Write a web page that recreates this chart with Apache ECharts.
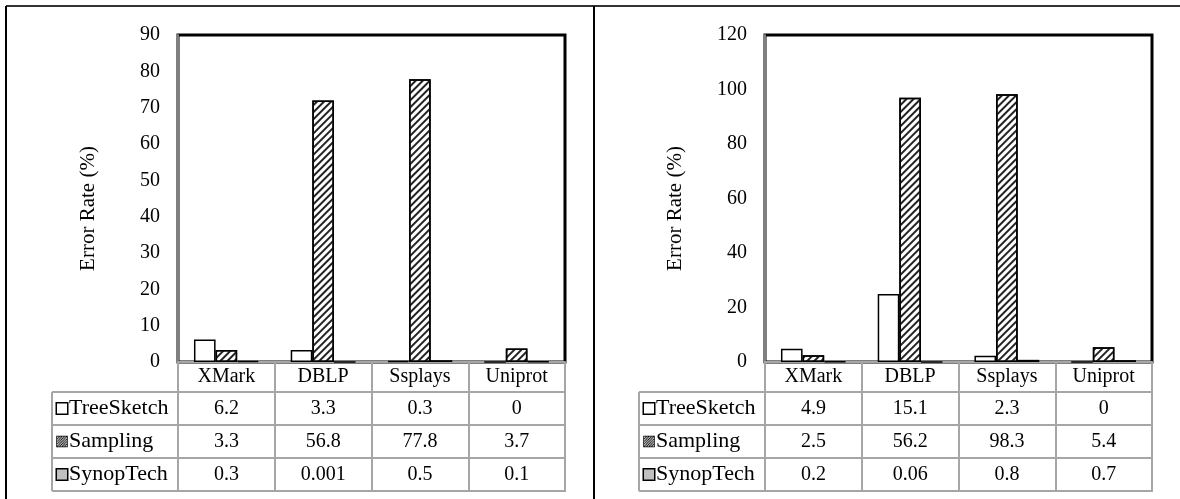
<!DOCTYPE html>
<html><head><meta charset="utf-8">
<script src="https://cdn.jsdelivr.net/npm/echarts@6/dist/echarts.min.js"></script>
<style>html,body{margin:0;padding:0;background:#fff}#c{width:1180px;height:499px}</style>
</head><body><div id="c"></div>
<script>
// ---- data ----
const categories = ['XMark', 'DBLP', 'Ssplays', 'Uniprot'];
const seriesNames = ['TreeSketch', 'Sampling', 'SynopTech'];
// bar heights
const leftTreeSketch = [6.2, 3.3, 0.3, 0];
const leftSampling = [3.3, 72, 77.8, 3.7];
const leftSynopTech = [0.3, 0.001, 0.5, 0.1];
const rightTreeSketch = [4.9, 25, 2.3, 0];
const rightSampling = [2.5, 97, 98.3, 5.4];
const rightSynopTech = [0.2, 0.06, 0.8, 0.7];
// numbers printed in the data tables
const leftTableTreeSketch = ['6.2', '3.3', '0.3', '0'];
const leftTableSampling = ['3.3', '56.8', '77.8', '3.7'];
const leftTableSynopTech = ['0.3', '0.001', '0.5', '0.1'];
const rightTableTreeSketch = ['4.9', '15.1', '2.3', '0'];
const rightTableSampling = ['2.5', '56.2', '98.3', '5.4'];
const rightTableSynopTech = ['0.2', '0.06', '0.8', '0.7'];
const leftYMax = 90, leftYStep = 10;
const rightYMax = 120, rightYStep = 20;
const yTitle = 'Error Rate (%)';

// ---- styles ----
const FONT = "'Liberation Serif','Times New Roman',serif";
const FS = 20;
const GRAY = '#a6a6a6';

function hatchCanvas(size) {
  const c = document.createElement('canvas');
  c.width = size; c.height = size;
  const g = c.getContext('2d');
  g.fillStyle = '#fff'; g.fillRect(0, 0, size, size);
  g.strokeStyle = '#000'; g.lineWidth = 1.2;
  for (let i = -size; i < size * 2; i += 3) {
    g.beginPath(); g.moveTo(i, size); g.lineTo(i + size, 0); g.stroke();
  }
  return c;
}
const hatchImg = hatchCanvas(12);
const hatchDecal = {
  symbol: 'rect', symbolSize: 1,
  dashArrayX: [1, 0], dashArrayY: [1.3, 2.6],
  rotation: -Math.PI / 4, color: '#222'
};
const fills = ['#ffffff', '#ffffff', '#c0c0c0'];

function panel(idx, dx, vals, table, yMax, yStep) {
  const g0 = idx * 2, g1 = idx * 2 + 1;
  const plotLeft = 178 + dx, plotW = 387;
  const grids = [
    { left: plotLeft, top: 35, width: plotW, height: 327, show: true,
      borderColor: '#000', borderWidth: 3, backgroundColor: 'transparent' },
    { left: plotLeft, top: 392, width: plotW, height: 99, show: true,
      borderColor: GRAY, borderWidth: 2, backgroundColor: 'transparent' }
  ];
  const xAxes = [
    { gridIndex: g0, type: 'category', data: categories,
      axisLine: { show: true, lineStyle: { color: GRAY, width: 2 } },
      axisTick: { show: true, length: 30, lineStyle: { color: GRAY, width: 2 } },
      axisLabel: { margin: 5, color: '#000', fontFamily: FONT, fontSize: FS },
      splitLine: { show: false } },
    { gridIndex: g1, type: 'category', data: categories,
      axisLine: { show: false }, axisTick: { show: false }, axisLabel: { show: false },
      splitLine: { show: true, lineStyle: { color: GRAY, width: 2 } } }
  ];
  const keys = ['a', 'b', 'c'];
  const yAxes = [
    { gridIndex: g0, type: 'value', min: 0, max: yMax, interval: yStep,
      name: yTitle, nameLocation: 'middle', nameGap: 79,
      nameTextStyle: { fontFamily: FONT, fontSize: 21, color: '#000', padding: [0, 20, 0, 0] },
      axisLine: { show: true, lineStyle: { color: '#7f7f7f', width: 2 } },
      axisTick: { show: false },
      axisLabel: { margin: 18, color: '#000', fontFamily: FONT, fontSize: FS },
      splitLine: { show: false } },
    { gridIndex: g1, type: 'category', data: seriesNames, inverse: true,
      axisLine: { show: true, lineStyle: { color: GRAY, width: 2 } },
      axisTick: { show: true, length: 126, lineStyle: { color: GRAY, width: 2 } },
      splitLine: { show: true, lineStyle: { color: GRAY, width: 2 } },
      axisLabel: {
        margin: 121, align: 'left',
        formatter: (v, i) => '{' + keys[i] + '|}{t|' + v + '}',
        rich: {
          a: { width: 10, height: 10, backgroundColor: '#fff', borderColor: '#000', borderWidth: 1.5 },
          b: { width: 10, height: 10, backgroundColor: { image: hatchImg }, borderColor: '#000', borderWidth: 1.5 },
          c: { width: 10, height: 10, backgroundColor: '#c0c0c0', borderColor: '#000', borderWidth: 1.5 },
          t: { fontFamily: FONT, fontSize: 22, color: '#000', padding: [0, 0, 0, 2] }
        }
      } }
  ];
  const xi0 = idx * 2, yi0 = idx * 2;
  const series = vals.map((arr, s) => ({
    type: 'bar', name: seriesNames[s], xAxisIndex: xi0, yAxisIndex: yi0,
    data: arr, barGap: '0%', barCategoryGap: '33%',
    itemStyle: Object.assign({ color: fills[s], borderColor: '#000', borderWidth: 1.5 },
      s === 1 ? { decal: hatchDecal } : {}),
    emphasis: { disabled: true }, animation: false
  }));
  const cells = [];
  table.forEach((arr, r) => arr.forEach((v, c) => cells.push([c, r, v])));
  series.push({
    type: 'custom', xAxisIndex: xi0 + 1, yAxisIndex: yi0 + 1, data: cells,
    animation: false, silent: true,
    renderItem: (params, api) => {
      const p = api.coord([api.value(0), api.value(1)]);
      return { type: 'text', style: { text: cells[params.dataIndex][2], x: p[0], y: p[1],
        align: 'center', verticalAlign: 'middle', font: FS + 'px ' + FONT, fill: '#000' } };
    }
  });
  return { grids, xAxes, yAxes, series };
}

const L = panel(0, 0, [leftTreeSketch, leftSampling, leftSynopTech],
  [leftTableTreeSketch, leftTableSampling, leftTableSynopTech], leftYMax, leftYStep);
const R = panel(1, 587, [rightTreeSketch, rightSampling, rightSynopTech],
  [rightTableTreeSketch, rightTableSampling, rightTableSynopTech], rightYMax, rightYStep);

const chart = echarts.init(document.getElementById('c'), null, { renderer: 'canvas' });
chart.setOption({
  backgroundColor: '#fff',
  animation: false,
  textStyle: { fontFamily: FONT },
  grid: L.grids.concat(R.grids),
  xAxis: L.xAxes.concat(R.xAxes),
  yAxis: L.yAxes.concat(R.yAxes),
  series: L.series.concat(R.series),
  graphic: [
    { type: 'line', shape: { x1: 6, y1: 6, x2: 1180, y2: 6 }, style: { stroke: '#333', lineWidth: 2 } },
    { type: 'line', shape: { x1: 6, y1: 6, x2: 6, y2: 499 }, style: { stroke: '#000', lineWidth: 2 } },
    { type: 'line', shape: { x1: 594, y1: 6, x2: 594, y2: 499 }, style: { stroke: '#000', lineWidth: 2 } },
    { type: 'line', shape: { x1: 52, y1: 392, x2: 52, y2: 491 }, style: { stroke: GRAY, lineWidth: 2 } },
    { type: 'line', shape: { x1: 639, y1: 392, x2: 639, y2: 491 }, style: { stroke: GRAY, lineWidth: 2 } }
  ]
});
</script></body></html>
